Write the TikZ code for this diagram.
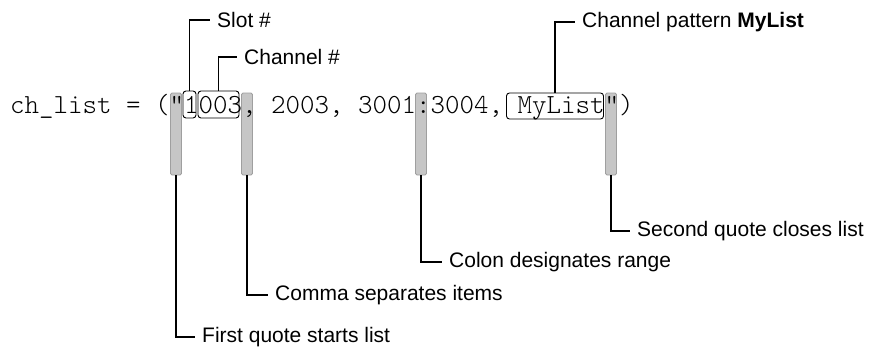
\documentclass[tikz,border=0pt]{standalone}
\usepackage{fontspec}
\setmainfont{Liberation Sans}
\newfontfamily\codefont{Latin Modern Mono Light}
\usepackage{tikz}

\begin{document}
\begin{tikzpicture}[x=1pt,y=-1pt,
    code/.style={anchor=base west,inner sep=0pt,font=\codefont\fontsize{27.6}{30}\selectfont},
    bar/.style={rectangle,draw=gray!75,fill=gray!45,line width=0.8pt,rounded corners=1.5pt,minimum width=11pt,minimum height=82pt,inner sep=0pt},
    hilite/.style={rectangle,draw,line width=0.9pt,rounded corners=3pt,inner sep=0pt},
    lbl/.style={anchor=west,inner xsep=7pt,inner ysep=1pt,font=\fontsize{21}{24}\selectfont},
    lead/.style={line width=1.6pt}]
\useasboundingbox (0,0) rectangle (875,348);

% Gray markers under the quote, comma, colon and closing quote
\node[bar] (qopen) at (176,134) {};
\node[bar] (comma) at (247,134) {};
\node[bar] (colon) at (421,134) {};
\node[bar] (qclose) at (611,134) {};

% The code line, one piece per word, 14.5pt per character
\node[code] (name) at (10,113) {ch\_list};
\node[code] (eq) at (126,113) {=};
\node[code] (w1) at (155,113) {("1003,};
\node[code] (w2) at (271,113) {2003,};
\node[code] (w3) at (358,113) {3001:3004,};
\node[code] (w4) at (517.5,113) {MyList")};

% Boxes round slot, channel and pattern
\node[hilite,minimum width=13pt,minimum height=27pt] (slot) at (189.5,104.5) {};
\node[hilite,minimum width=41pt,minimum height=27pt] (chan) at (218.5,104.5) {};
\node[hilite,minimum width=97pt,minimum height=26pt] (pattern) at (555,106) {};

% Labels above
\node[lbl] (slotlbl) at (210,20) {Slot \#};
\node[lbl] (chanlbl) at (237,57) {Channel \#};
\node[lbl] (patlbl) at (575,22) {Channel pattern \textbf{MyList}};

% Labels below
\node[lbl] (firstlbl) at (195,337) {First quote starts list};
\node[lbl] (commalbl) at (268,295) {Comma separates items};
\node[lbl] (colonlbl) at (442,262) {Colon designates range};
\node[lbl] (closelbl) at (630,231) {Second quote closes list};

% Leader lines
\draw[lead] (slot.north) |- (slotlbl.west);
\draw[lead] (chan.north) |- (chanlbl.west);
\draw[lead] (pattern.north) |- (patlbl.west);
\draw[lead] (qopen.south) |- (firstlbl.west);
\draw[lead] (comma.south) |- (commalbl.west);
\draw[lead] (colon.south) |- (colonlbl.west);
\draw[lead] (qclose.south) |- (closelbl.west);

\end{tikzpicture}
\end{document}
